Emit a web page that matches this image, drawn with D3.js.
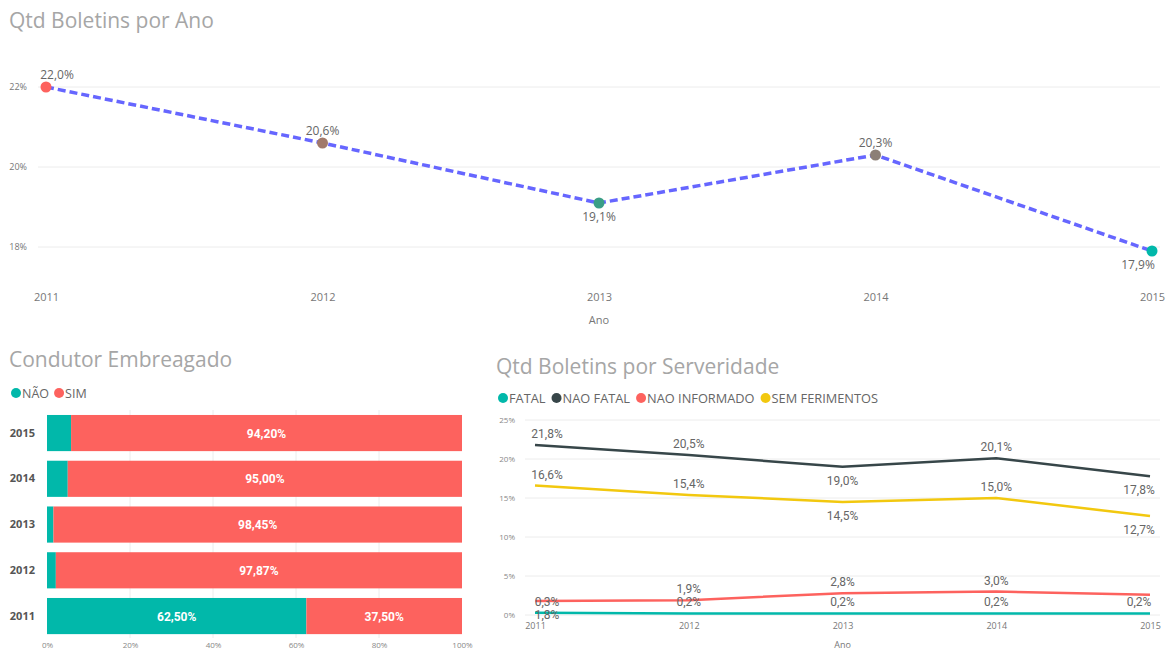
<!DOCTYPE html>
<html>
<head>
<meta charset="utf-8">
<script src="https://cdn.jsdelivr.net/npm/d3@7"></script>
<style>
  body { margin: 0; background: #fff; }
  svg { display: block; font-family: "Open Sans", "Noto Sans", sans-serif; }
</style>
</head>
<body>
<svg id="c" width="1172" height="650"></svg>
<script>
// ---------- DATA ----------
const years = ["2011", "2012", "2013", "2014", "2015"];

// Chart 1: Qtd Boletins por Ano (%)
const anoValues = [22.0, 20.6, 19.1, 20.3, 17.9];
const anoPointColors = ["#fd625e", "#a1796a", "#3a9e86", "#8c7f77", "#01b8aa"];
const anoTicks = [18, 20, 22];

// Chart 2: Condutor Embreagado (% of year)
const embYears = ["2015", "2014", "2013", "2012", "2011"];
const embNao = [5.80, 5.00, 1.55, 2.13, 62.50];
const embSim = [94.20, 95.00, 98.45, 97.87, 37.50];
const embTicks = [0, 20, 40, 60, 80, 100];

// Chart 3: Qtd Boletins por Serveridade (%)
const sevSeries = ["FATAL", "NAO FATAL", "NAO INFORMADO", "SEM FERIMENTOS"];
const sevFatal = [0.3, 0.2, 0.2, 0.2, 0.2];
const sevNaoFatal = [21.8, 20.5, 19.0, 20.1, 17.8];
const sevNaoInformado = [1.8, 1.9, 2.8, 3.0, 2.6];
const sevSemFerimentos = [16.6, 15.4, 14.5, 15.0, 12.7];
const sevTicks = [0, 5, 10, 15, 20, 25];

// ---------- STYLE / CONFIG ----------
const sevColors = ["#01b8aa", "#374649", "#fd625e", "#f2c80f"];
const embColors = { nao: "#01b8aa", sim: "#fd625e" };
// label placement: 1 = above, -1 = below, 0 = none
const anoLabelPos = [1, 1, -1, 1, -1];
const sevLabelPos = [
  [1, 1, 1, 1, 1],
  [1, 1, -1, 1, -1],
  [-1, 1, 1, 1, 0],
  [1, 1, -1, 1, -1]
];

const fmt1 = v => v.toFixed(1).replace(".", ",") + "%";
const fmt2 = v => v.toFixed(2).replace(".", ",") + "%";

const svg = d3.select("#c");
const titleColor = "#a6a6a6";
const axisColor = "#777";
const labelColor = "#666";
const gridColor = "#ececec";

// ================= CHART 1 =================
{
  const g = svg.append("g");
  g.append("text").attr("x", 9).attr("y", 28)
    .attr("font-size", 21).attr("fill", titleColor).text("Qtd Boletins por Ano");

  const x = d3.scalePoint().domain(years).range([46, 1152]);
  const y = d3.scaleLinear().domain([18, 22]).range([247, 87]);

  g.selectAll(".grid").data(anoTicks).join("line")
    .attr("x1", 38).attr("x2", 1160)
    .attr("y1", d => y(d)).attr("y2", d => y(d))
    .attr("stroke", gridColor).attr("stroke-width", 1);

  const yAxis = d3.axisLeft(y).tickValues(anoTicks).tickSize(0).tickFormat(d => d + "%");
  const ya = g.append("g").attr("transform", "translate(30,0)").call(yAxis);
  ya.select(".domain").remove();
  ya.selectAll("text").attr("font-size", 9).attr("fill", axisColor).attr("font-family", "Open Sans");

  const xAxis = d3.axisBottom(x).tickSize(0);
  const xa = g.append("g").attr("transform", "translate(0,290)").call(xAxis);
  xa.select(".domain").remove();
  xa.selectAll("text").attr("font-size", 11).attr("fill", axisColor).attr("font-family", "Open Sans");

  g.append("text").attr("x", x("2013")).attr("y", 324).attr("text-anchor", "middle")
    .attr("font-size", 11).attr("fill", axisColor).text("Ano");

  const line = d3.line().x((d, i) => x(years[i])).y(d => y(d));
  g.append("path").datum(anoValues).attr("d", line)
    .attr("fill", "none").attr("stroke", "#6666ff").attr("stroke-width", 3.5)
    .attr("stroke-dasharray", "8,4");

  g.selectAll(".pt").data(anoValues).join("circle")
    .attr("cx", (d, i) => x(years[i])).attr("cy", d => y(d)).attr("r", 5.5)
    .attr("fill", (d, i) => anoPointColors[i]);

  g.selectAll(".lbl").data(anoValues).join("text")
    .attr("x", (d, i) => Math.min(Math.max(x(years[i]), 57), 1138))
    .attr("y", (d, i) => y(d) + (anoLabelPos[i] > 0 ? -8 : 18))
    .attr("text-anchor", "middle").attr("font-size", 12).attr("fill", labelColor)
    .text(d => fmt1(d));
}

// ================= CHART 2 =================
{
  const g = svg.append("g");
  g.append("text").attr("x", 9).attr("y", 367)
    .attr("font-size", 21).attr("fill", titleColor).text("Condutor Embreagado");

  // legend
  const leg = [["NÃO", embColors.nao], ["SIM", embColors.sim]];
  let lx = 16;
  leg.forEach(([t, c]) => {
    g.append("circle").attr("cx", lx).attr("cy", 393).attr("r", 5).attr("fill", c);
    const tx = g.append("text").attr("x", lx + 6).attr("y", 397.5)
      .attr("font-size", 12.5).attr("fill", labelColor).text(t);
    lx += 6 + tx.node().getComputedTextLength() + 10;
  });

  const x = d3.scaleLinear().domain([0, 100]).range([47, 462]);
  const y = d3.scaleBand().domain(embYears).range([410.4, 638.7]).paddingInner(0.21).paddingOuter(0.1);

  g.selectAll(".vgrid").data(embTicks.slice(1, -1)).join("line")
    .attr("x1", d => x(d)).attr("x2", d => x(d)).attr("y1", 410).attr("y2", 638)
    .attr("stroke", gridColor);

  g.selectAll(".nao").data(embNao).join("rect")
    .attr("x", x(0)).attr("y", (d, i) => y(embYears[i]))
    .attr("width", d => x(d) - x(0)).attr("height", y.bandwidth())
    .attr("fill", embColors.nao);
  g.selectAll(".sim").data(embSim).join("rect")
    .attr("x", (d, i) => x(embNao[i])).attr("y", (d, i) => y(embYears[i]))
    .attr("width", (d, i) => x(embNao[i] + d) - x(embNao[i])).attr("height", y.bandwidth())
    .attr("fill", embColors.sim);

  g.selectAll(".simlbl").data(embSim).join("text")
    .attr("x", (d, i) => (x(embNao[i]) + x(embNao[i] + d)) / 2)
    .attr("y", (d, i) => y(embYears[i]) + y.bandwidth() / 2 + 4.5)
    .attr("text-anchor", "middle").attr("font-size", 12).attr("font-weight", "bold")
    .attr("font-family", "Roboto").attr("fill", "#fff").text(d => fmt2(d));
  g.selectAll(".naolbl").data(embNao.map((v, i) => [v, i]).filter(d => d[0] > 20)).join("text")
    .attr("x", d => (x(0) + x(d[0])) / 2)
    .attr("y", d => y(embYears[d[1]]) + y.bandwidth() / 2 + 4.5)
    .attr("text-anchor", "middle").attr("font-size", 12).attr("font-weight", "bold")
    .attr("font-family", "Roboto").attr("fill", "#fff").text(d => fmt2(d[0]));

  const ya = g.append("g").attr("transform", "translate(38,0)")
    .call(d3.axisLeft(y).tickSize(0));
  ya.select(".domain").remove();
  ya.selectAll("text").attr("font-size", 11).attr("font-weight", "bold")
    .attr("fill", "#555").attr("font-family", "Open Sans");

  const xa = g.append("g").attr("transform", "translate(0,639)")
    .call(d3.axisBottom(x).tickValues(embTicks).tickSize(0).tickFormat(d => d + "%"));
  xa.select(".domain").remove();
  xa.selectAll("text").attr("font-size", 8).attr("fill", "#888").attr("font-family", "Open Sans");
}

// ================= CHART 3 =================
{
  const g = svg.append("g");
  g.append("text").attr("x", 496).attr("y", 374)
    .attr("font-size", 21).attr("fill", titleColor).text("Qtd Boletins por Serveridade");

  let lx = 503;
  sevSeries.forEach((t, i) => {
    g.append("circle").attr("cx", lx).attr("cy", 398).attr("r", 5).attr("fill", sevColors[i]);
    const tx = g.append("text").attr("x", lx + 6).attr("y", 402.5)
      .attr("font-size", 12.8).attr("fill", labelColor).text(t);
    lx += 6 + tx.node().getComputedTextLength() + 11;
  });

  const x = d3.scalePoint().domain(years).range([535, 1150]);
  const y = d3.scaleLinear().domain([0, 25]).range([615, 420]);

  g.selectAll(".grid").data(sevTicks).join("line")
    .attr("x1", 525).attr("x2", 1160)
    .attr("y1", d => y(d)).attr("y2", d => y(d))
    .attr("stroke", gridColor);

  const ya = g.append("g").attr("transform", "translate(518,0)")
    .call(d3.axisLeft(y).tickValues(sevTicks).tickSize(0).tickFormat(d => d + "%"));
  ya.select(".domain").remove();
  ya.selectAll("text").attr("font-size", 8).attr("fill", "#888").attr("font-family", "Open Sans");

  const xa = g.append("g").attr("transform", "translate(0,620)")
    .call(d3.axisBottom(x).tickSize(0));
  xa.select(".domain").remove();
  xa.selectAll("text").attr("font-size", 9).attr("fill", "#777").attr("font-family", "Open Sans");

  g.append("text").attr("x", x("2013")).attr("y", 648).attr("text-anchor", "middle")
    .attr("font-size", 9).attr("fill", axisColor).text("Ano");

  const seriesData = [sevFatal, sevNaoFatal, sevNaoInformado, sevSemFerimentos];
  const line = d3.line().x((d, i) => x(years[i])).y(d => y(d));
  const drawOrder = [2, 0, 3, 1];
  drawOrder.forEach(si => {
    g.append("path").datum(seriesData[si]).attr("d", line)
      .attr("fill", "none").attr("stroke", sevColors[si]).attr("stroke-width", 2.5);
  });

  seriesData.forEach((vals, si) => {
    vals.forEach((v, i) => {
      const p = sevLabelPos[si][i];
      if (!p) return;
      let cx = x(years[i]);
      cx = Math.min(Math.max(cx, 547), 1139);
      g.append("text").attr("x", cx)
        .attr("y", y(v) + (p > 0 ? -7 : 18))
        .attr("text-anchor", "middle").attr("font-size", 12).attr("fill", labelColor)
        .attr("font-family", "Roboto")
        .text(fmt1(v));
    });
  });
}
</script>
</body>
</html>
